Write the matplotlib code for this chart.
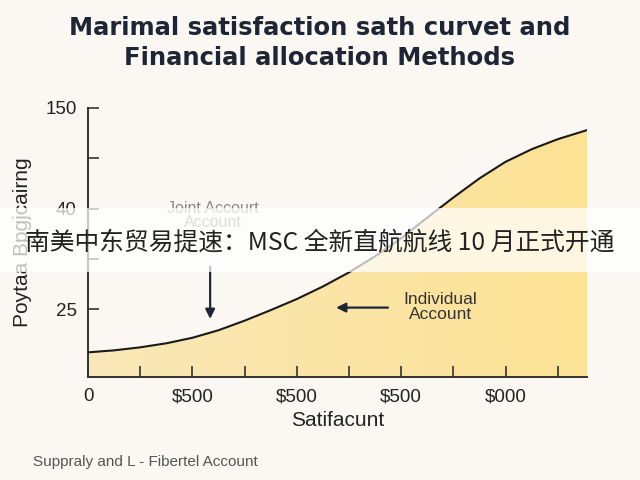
import numpy as np
import matplotlib.pyplot as plt
from matplotlib.colors import LinearSegmentedColormap

# curve values (x in minor-tick units, y in tick-step units)
curve_x = [0, 0.5, 1, 1.5, 2, 2.5, 3, 3.5, 4, 4.5, 5, 5.5, 6, 6.5, 7, 7.5, 8, 8.5, 9, 9.56]
curve_y = [0.14, 0.18, 0.24, 0.32, 0.43, 0.58, 0.77, 0.98, 1.2, 1.45, 1.73, 2.05, 2.41, 2.82,
           3.22, 3.6, 3.93, 4.18, 4.38, 4.56]

x_ticks = [0, 2, 4, 6, 8]
x_tick_labels = ['0', '$500', '$500', '$500', '$000']
x_minor = [1, 3, 5, 7, 9]
y_ticks = [1, 2, 3, 4, 5]
y_tick_labels = ['25', '', '40', '', '150']

plt.rcParams['font.family'] = ['Liberation Sans', 'DejaVu Sans']

bg = '#fbf8f3'
navy = '#1e2535'

fig = plt.figure(figsize=(6.4, 4.8), dpi=100, facecolor=bg)
ax = fig.add_axes([0.1375, 0.2146, 0.7797, 0.5604])
ax.set_facecolor(bg)

# gradient yellow fill under the curve
poly = ax.fill_between(curve_x, curve_y, -0.35, color='none', lw=0)
cmap = LinearSegmentedColormap.from_list('y', ['#f9e8b8', '#fde294'])
grad = np.linspace(0, 1, 256).reshape(1, -1)
im = ax.imshow(grad, cmap=cmap, extent=[0, 9.56, -0.35, 5], aspect='auto', zorder=1)
im.set_clip_path(poly.get_paths()[0], transform=ax.transData)
ax.plot(curve_x, curve_y, color='#1a1a1a', lw=1.5, zorder=3)

ax.set_xlim(0, 9.56)
ax.set_ylim(-0.35, 5)
ax.set_xticks(x_ticks)
ax.set_xticklabels(x_tick_labels, fontsize=13.5, color='#222222')
ax.set_xticks(x_minor, minor=True)
ax.set_yticks(y_ticks)
ax.set_yticklabels(y_tick_labels, fontsize=13.5, color='#222222')
ax.tick_params(axis='both', which='both', direction='in', length=8, width=1.2, color='#333333')
ax.tick_params(axis='x', pad=8)
ax.tick_params(axis='y', pad=8)
for s in ['top', 'right']:
    ax.spines[s].set_visible(False)
for s in ['left', 'bottom']:
    ax.spines[s].set_color('#333333')
    ax.spines[s].set_linewidth(1.4)

ax.set_xlabel('Satifacunt', fontsize=15, color='#222222', labelpad=4)
ax.set_ylabel('Poytaa Bpgjcairng', fontsize=15, color='#222222', labelpad=10)

# annotations
ax.text(2.4, 2.86, 'Joint Accourt\nAccount', ha='center', va='center', fontsize=11.5,
        color='#888888', linespacing=0.85, zorder=4)
ax.annotate('', xy=(2.34, 0.75), xytext=(2.34, 1.9),
            arrowprops=dict(arrowstyle='-|>', color=navy, lw=1.6, mutation_scale=14), zorder=4)
ax.text(6.75, 1.05, 'Individual\nAccount', ha='center', va='center', fontsize=12.5,
        color='#333333', linespacing=1.0, zorder=4)
ax.annotate('', xy=(4.7, 1.03), xytext=(5.8, 1.03),
            arrowprops=dict(arrowstyle='-|>', color=navy, lw=1.6, mutation_scale=14), zorder=4)

fig.text(0.5, 1 - 43 / 480, 'Marimal satisfaction sath curvet and\nFinancial allocation Methods',
         ha='center', va='center', fontsize=17.5, fontweight='bold', color=navy,
         linespacing=1.3, family='DejaVu Sans')
fig.text(0.052, 0.037, 'Suppraly and L - Fibertel Account', ha='left', va='center',
         fontsize=11, color='#555555')

# semi-transparent banner across the chart
fig.patches.append(plt.Rectangle((0, 1 - 272 / 480), 1, 64 / 480, transform=fig.transFigure,
                                 facecolor='white', alpha=0.72, lw=0, zorder=5))
fig.text(0.5, 1 - 243 / 480, '南美中东贸易提速：MSC 全新直航航线 10 月正式开通', ha='center',
         va='center', fontsize=17.8, color='#222222', zorder=6,
         family=['Noto Sans CJK SC', 'DejaVu Sans'])

fig.savefig('out.png', dpi=100, facecolor=bg)
